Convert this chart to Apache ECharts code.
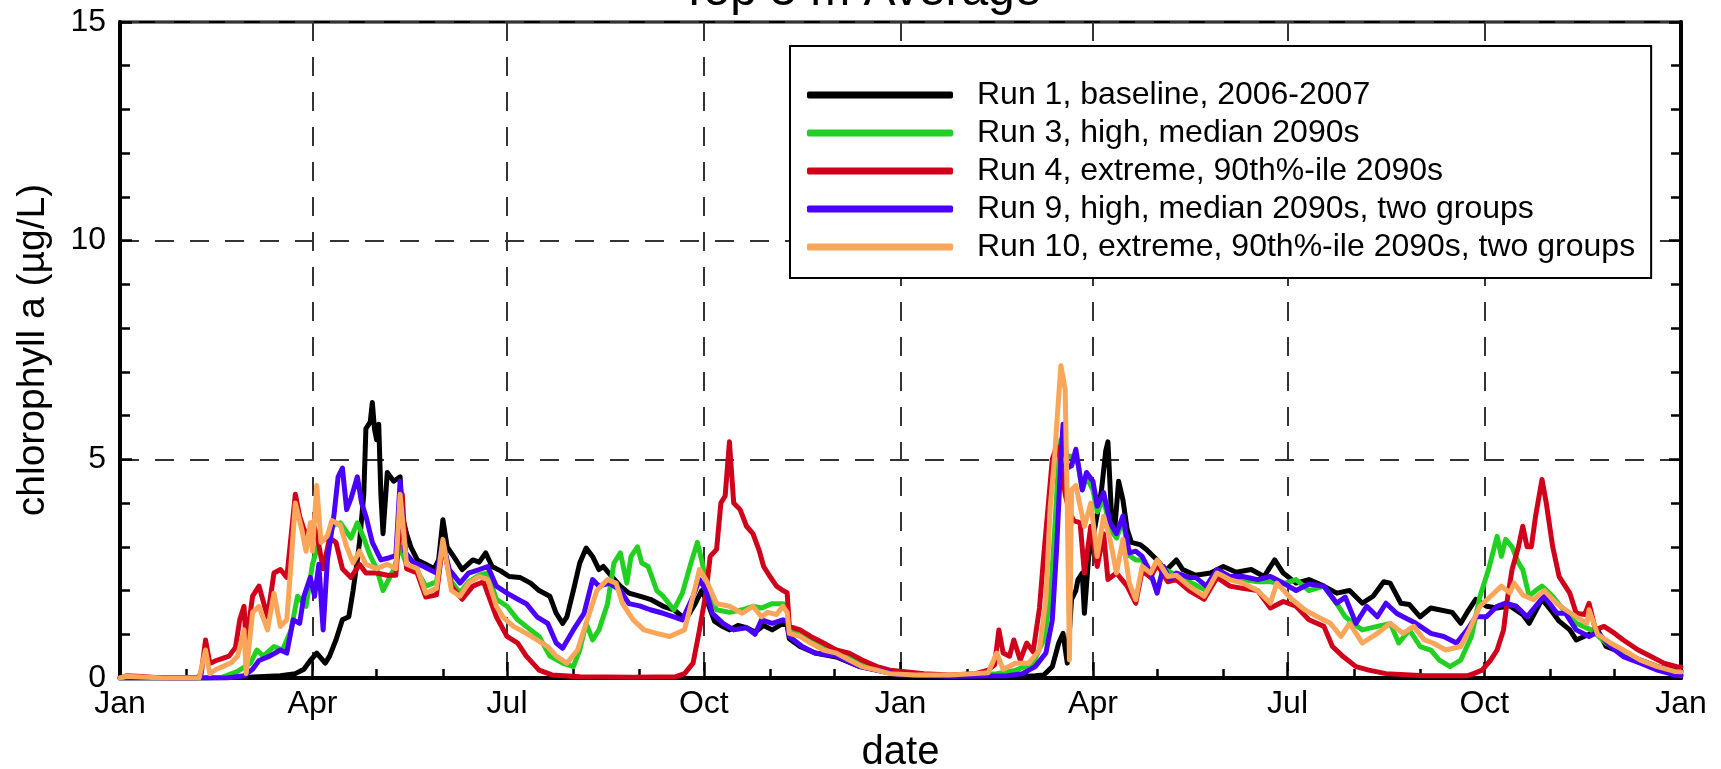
<!DOCTYPE html>
<html>
<head>
<meta charset="utf-8">
<script src="https://cdn.jsdelivr.net/npm/echarts@6/dist/echarts.min.js"></script>
<style>
html,body{margin:0;padding:0;background:#fff;}
#chart{width:1721px;height:769px;}
</style>
</head>
<body>
<div id="chart"></div>
<script>
// ---- axis definitions (day index from 1 Jan 2006, 730 = 1 Jan 2008) ----
const quarterDays = [0, 90, 181, 273, 365, 455, 546, 638, 730];
const quarterLabels = ['Jan', 'Apr', 'Jul', 'Oct', 'Jan', 'Apr', 'Jul', 'Oct', 'Jan'];
const monthDays = [0,31,59,90,120,151,181,212,243,273,304,334,365,396,424,455,485,516,546,577,608,638,669,699,730];
const yTicks = [0, 5, 10, 15];

const seriesNames = [
  'Run 1, baseline, 2006-2007',
  'Run 3, high, median 2090s',
  'Run 4, extreme, 90th%-ile 2090s',
  'Run 9, high, median 2090s, two groups',
  'Run 10, extreme, 90th%-ile 2090s, two groups'
];

// ---- series values: [day, chlorophyll a (ug/L)] ----
const run1 = [[0,0],[20,0],[40,0],[60,0.02],[75,0.05],[82,0.1],[86,0.2],[89,0.4],[92,0.57],[96,0.34],[98,0.5],[101,0.87],[104,1.33],[107,1.4],[109,2.0],[111,2.7],[112,3.1],[114,4.2],[115,5.7],[117,5.85],[118,6.3],[119,5.7],[120,5.45],[121,5.8],[122,4.2],[123,3.3],[125,4.7],[128,4.5],[131,4.6],[132,3.7],[134,3.3],[136,3.0],[139,2.7],[143,2.6],[147,2.5],[149,2.7],[151,3.62],[153,3.0],[156,2.78],[160,2.48],[165,2.7],[168,2.65],[171,2.86],[174,2.55],[178,2.45],[182,2.32],[187,2.3],[192,2.17],[196,2.0],[201,1.87],[204,1.48],[207,1.25],[209,1.4],[212,2.0],[215,2.63],[218,2.97],[221,2.78],[224,2.48],[226,2.55],[230,2.32],[234,2.1],[238,1.94],[243,1.87],[248,1.8],[254,1.64],[259,1.56],[263,1.4],[266,1.45],[269,1.7],[272,2.0],[275,1.7],[278,1.3],[281,1.2],[285,1.1],[289,1.2],[293,1.15],[297,1.05],[301,1.2],[305,1.1],[310,1.25],[312,1.2],[313,0.9],[318,0.72],[325,0.57],[335,0.48],[346,0.26],[357,0.15],[365,0.07],[380,0.04],[400,0.03],[420,0.03],[428,0.05],[432,0.07],[436,0.26],[439,0.8],[441,1.02],[443,0.34],[445,1.8],[447,2.0],[448,2.25],[450,2.4],[451,1.48],[453,2.78],[456,3.47],[459,4.3],[461,5.2],[462,5.4],[464,3.4],[465,3.3],[467,4.5],[469,4.08],[471,3.4],[473,3.1],[477,3.05],[480,2.94],[485,2.7],[489,2.45],[494,2.7],[497,2.48],[503,2.35],[510,2.4],[516,2.55],[522,2.42],[529,2.48],[535,2.32],[540,2.7],[544,2.4],[550,2.17],[556,2.25],[563,2.1],[569,1.94],[575,2.0],[581,1.71],[586,1.87],[591,2.2],[594,2.17],[599,1.71],[603,1.68],[608,1.4],[613,1.6],[617,1.56],[623,1.5],[627,1.25],[630,1.5],[634,1.8],[639,1.64],[644,1.6],[650,1.65],[656,1.45],[659,1.25],[665,1.8],[670,1.5],[673,1.3],[678,1.1],[681,0.87],[687,1.0],[691,1.1],[695,0.72],[703,0.57],[711,0.41],[719,0.26],[727,0.18],[730,0.15]];

const run3 = [[0,0],[40,0],[48,0.02],[55,0.15],[61,0.34],[64,0.64],[67,0.5],[72,0.72],[76,0.64],[80,1.1],[83,1.87],[87,1.64],[90,2.6],[93,3.1],[97,3.2],[100,3.5],[103,3.55],[108,3.2],[111,3.55],[114,3.2],[117,2.8],[120,2.5],[123,2.0],[128,2.48],[131,3.0],[134,2.6],[139,2.45],[143,2.1],[148,2.2],[151,3.1],[155,2.2],[159,1.95],[163,2.2],[168,2.35],[172,2.4],[176,1.8],[181,1.64],[186,1.33],[192,1.1],[196,0.95],[201,0.5],[207,0.34],[212,0.26],[215,0.64],[218,1.25],[221,0.87],[224,1.1],[228,1.7],[231,2.63],[234,2.86],[237,2.17],[239,2.78],[242,3.0],[244,2.63],[247,2.55],[251,2.0],[254,1.87],[259,1.56],[263,1.94],[267,2.63],[270,3.1],[272,2.7],[275,2.0],[279,1.56],[285,1.5],[291,1.56],[296,1.64],[300,1.6],[305,1.7],[310,1.7],[312,1.65],[313,1.1],[319,0.95],[325,0.8],[335,0.64],[345,0.4],[357,0.2],[365,0.1],[390,0.05],[410,0.1],[419,0.18],[427,0.34],[432,0.87],[435,1.79],[437,3.3],[439,5.0],[440,5.45],[443,5.07],[445,5.07],[448,4.9],[450,4.3],[452,4.6],[455,4.3],[457,3.8],[460,4.1],[463,3.4],[466,3.2],[469,3.6],[472,2.8],[475,2.7],[478,2.7],[482,2.35],[485,2.0],[488,2.5],[494,2.35],[500,2.2],[508,2.0],[513,2.4],[519,2.3],[525,2.25],[532,2.2],[538,2.2],[544,2.15],[550,2.25],[556,2.0],[563,2.1],[569,1.7],[573,1.4],[578,1.2],[581,1.1],[588,1.18],[594,1.25],[598,0.8],[603,1.1],[608,0.72],[613,0.64],[617,0.41],[622,0.26],[627,0.41],[632,0.95],[636,1.87],[640,2.48],[644,3.24],[646,2.78],[648,3.17],[651,3.0],[654,2.63],[656,2.48],[659,1.87],[662,2.0],[665,2.1],[670,1.87],[675,1.56],[681,1.25],[688,1.1],[695,0.8],[703,0.57],[713,0.34],[722,0.18],[728,0.1],[730,0.1]];

const run4 = [[0,0],[3,0.05],[8,0.04],[20,0],[36,0],[38,0.1],[40,0.87],[42,0.33],[45,0.4],[48,0.45],[51,0.5],[54,0.7],[56,1.33],[58,1.64],[59,0.8],[62,1.87],[65,2.1],[69,1.4],[72,2.4],[75,2.48],[78,2.3],[80,3.24],[82,4.2],[84,3.7],[87,3.25],[90,3.55],[92,3.3],[95,2.5],[98,3.2],[101,3.1],[104,2.5],[108,2.3],[112,2.6],[115,2.4],[120,2.4],[125,2.35],[129,2.35],[132,4.2],[134,2.5],[139,2.4],[143,1.85],[148,1.9],[151,3.1],[155,2.1],[160,1.8],[165,2.1],[170,2.2],[176,1.4],[181,0.95],[186,0.8],[190,0.5],[196,0.18],[202,0.07],[215,0.03],[240,0.02],[260,0.03],[264,0.1],[268,0.34],[271,1.1],[274,1.94],[276,2.78],[279,2.94],[281,4.0],[283,4.16],[285,5.4],[287,4.0],[290,3.85],[293,3.47],[296,3.3],[299,2.9],[301,2.55],[304,2.32],[307,2.1],[310,2.0],[312,1.95],[313,1.18],[318,1.1],[323,0.95],[329,0.8],[335,0.64],[341,0.57],[347,0.41],[354,0.26],[360,0.18],[366,0.15],[376,0.1],[388,0.07],[400,0.1],[406,0.18],[409,0.3],[411,1.1],[413,0.57],[416,0.5],[418,0.87],[421,0.41],[424,0.8],[427,0.6],[430,1.6],[432,2.8],[434,3.9],[436,5.0],[438,5.3],[440,5.0],[442,4.2],[444,3.8],[446,3.6],[449,3.55],[451,2.4],[454,3.47],[457,2.55],[460,3.3],[462,2.25],[466,2.4],[471,2.1],[475,1.71],[478,2.45],[482,2.3],[485,2.6],[490,2.2],[494,2.25],[500,2.0],[507,1.8],[513,2.3],[519,2.1],[525,2.05],[532,2.0],[538,1.6],[544,1.75],[550,1.64],[556,1.33],[563,1.18],[567,0.72],[572,0.49],[578,0.26],[584,0.18],[592,0.1],[610,0.05],[630,0.05],[633,0.1],[637,0.18],[641,0.41],[644,0.64],[647,1.1],[649,1.87],[651,2.48],[654,3.0],[656,3.47],[658,3.0],[660,3.0],[662,3.7],[665,4.54],[667,4.0],[670,3.0],[673,2.32],[678,1.94],[681,1.48],[685,1.45],[687,1.71],[690,1.1],[694,1.18],[699,1.02],[703,0.87],[710,0.64],[716,0.49],[722,0.34],[728,0.26],[730,0.25]];

const run9 = [[0,0],[50,0],[58,0.05],[62,0.2],[65,0.4],[70,0.5],[75,0.64],[78,0.57],[81,1.33],[84,1.25],[86,1.87],[89,2.3],[91,1.87],[93,2.6],[95,1.1],[97,2.7],[100,3.7],[102,4.6],[104,4.8],[106,3.85],[108,4.1],[111,4.6],[113,4.0],[115,3.7],[118,3.1],[122,2.7],[126,2.75],[129,2.8],[131,4.5],[133,2.9],[137,2.65],[142,2.55],[148,2.4],[151,3.1],[154,2.48],[159,2.17],[163,2.4],[168,2.48],[172,2.55],[176,2.1],[181,1.94],[186,1.8],[190,1.7],[195,1.4],[200,1.25],[204,0.8],[207,0.68],[212,1.1],[217,1.48],[221,2.25],[224,2.1],[229,2.17],[234,2.0],[238,1.7],[243,1.65],[248,1.56],[254,1.48],[259,1.4],[263,1.33],[268,1.87],[271,2.25],[274,2.0],[277,1.48],[282,1.25],[287,1.1],[293,1.15],[297,1.0],[300,1.33],[305,1.25],[310,1.33],[312,1.3],[313,0.95],[319,0.72],[325,0.57],[335,0.5],[346,0.26],[357,0.15],[365,0.07],[390,0.04],[415,0.05],[422,0.1],[428,0.26],[433,0.57],[436,1.33],[438,2.94],[440,5.0],[441,5.8],[443,4.8],[445,4.85],[447,5.23],[450,4.3],[452,4.7],[455,4.5],[457,3.93],[460,4.24],[463,3.55],[466,3.3],[469,3.7],[472,2.86],[475,2.9],[478,2.78],[482,2.4],[485,1.94],[488,2.55],[491,2.25],[494,2.4],[500,2.3],[503,2.3],[508,2.1],[513,2.48],[519,2.32],[525,2.32],[532,2.25],[538,2.32],[544,2.17],[550,2.0],[556,2.15],[563,2.1],[569,1.71],[573,1.85],[578,1.25],[583,1.64],[588,1.4],[592,1.71],[597,1.48],[600,1.4],[606,1.25],[613,1.02],[619,0.95],[625,0.8],[630,1.1],[634,1.4],[639,1.4],[644,1.64],[648,1.71],[653,1.64],[658,1.4],[662,1.64],[666,1.87],[672,1.48],[676,1.48],[681,1.1],[687,0.95],[691,1.05],[697,0.72],[703,0.49],[711,0.34],[719,0.18],[727,0.07],[730,0.05]];

const run10 = [[0,0],[3,0.04],[8,0.03],[20,0],[37,0],[40,0.64],[42,0.1],[45,0.2],[48,0.26],[52,0.35],[55,0.5],[58,1.1],[59,0.1],[62,1.5],[65,1.64],[69,1.1],[72,1.94],[75,1.18],[78,1.33],[80,2.63],[82,4.0],[85,3.4],[87,2.9],[89,3.55],[90,2.9],[92,4.4],[94,3.1],[97,3.25],[99,3.6],[103,3.5],[106,3.0],[109,2.63],[112,2.9],[115,2.6],[120,2.5],[125,2.6],[129,2.5],[131,4.2],[134,2.6],[139,2.5],[143,1.94],[148,2.05],[151,3.17],[155,2.0],[159,1.87],[163,2.17],[168,2.32],[172,2.25],[176,1.64],[179,1.4],[184,1.18],[190,1.02],[195,0.87],[200,0.72],[204,0.5],[209,0.34],[214,0.64],[218,1.25],[223,2.0],[228,2.25],[232,2.17],[235,1.7],[240,1.33],[245,1.1],[251,1.02],[257,0.95],[264,1.1],[268,1.87],[271,2.48],[274,2.25],[279,1.7],[285,1.64],[291,1.48],[296,1.64],[300,1.4],[303,1.5],[307,1.45],[310,1.64],[312,1.5],[313,1.02],[318,0.95],[323,0.8],[329,0.64],[335,0.57],[341,0.41],[347,0.26],[354,0.18],[360,0.1],[372,0.07],[388,0.07],[400,0.1],[406,0.12],[410,0.57],[413,0.2],[419,0.34],[425,0.34],[430,0.64],[433,1.79],[435,3.9],[437,5.0],[438,5.76],[440,7.14],[442,6.6],[443,3.9],[444,0.41],[445,4.3],[447,4.4],[451,3.47],[454,4.0],[457,2.78],[460,3.7],[463,3.17],[466,2.4],[469,3.17],[472,2.17],[475,1.79],[478,2.55],[482,2.4],[485,2.7],[490,2.32],[494,2.35],[500,2.1],[507,1.87],[513,2.4],[519,2.25],[525,2.17],[532,2.0],[538,1.71],[541,2.17],[548,1.8],[554,1.56],[560,1.4],[566,1.25],[571,0.95],[575,1.25],[581,0.8],[588,1.02],[594,1.25],[600,1.02],[605,1.18],[610,0.87],[614,0.8],[620,0.64],[627,0.72],[631,1.1],[636,1.64],[641,1.87],[646,2.1],[650,1.95],[652,2.17],[656,1.9],[661,1.79],[666,2.0],[672,1.7],[676,1.56],[681,1.4],[686,1.25],[687,1.56],[691,1.0],[697,0.8],[703,0.64],[711,0.41],[719,0.26],[727,0.15],[730,0.14]];

const seriesColors = ['#000000', '#22d022', '#d0021b', '#4b00ff', '#f9a55a'];
const seriesData = [run1, run3, run4, run9, run10];

// ---- build chart ----
const FONT = '"Liberation Sans", Arial, Helvetica, sans-serif';
const days = Array.from({length: 731}, (_, i) => i);
const isQuarter = (i) => quarterDays.indexOf(i) >= 0;
const isMonth = (i) => monthDays.indexOf(i) >= 0;

const chart = echarts.init(document.getElementById('chart'), null, {renderer: 'canvas'});

const option = {
  backgroundColor: '#ffffff',
  animation: false,
  title: {
    text: 'Top 5 m Average',
    left: 'center',
    top: -37,
    textStyle: {fontFamily: FONT, fontSize: 48, fontWeight: 'normal', color: '#000'}
  },
  grid: {left: 120, right: 40, top: 22, bottom: 91, containLabel: false, outerBoundsMode: 'none', show: true, borderColor: '#000', borderWidth: 3, backgroundColor: 'transparent'},
  legend: {
    orient: 'vertical',
    left: 790,
    top: 46,
    padding: [33, 16, 15, 17],
    itemGap: 6,
    itemWidth: 146,
    itemHeight: 7,
    icon: 'roundRect',
    backgroundColor: '#ffffff',
    borderColor: '#000',
    borderWidth: 2,
    borderRadius: 0,
    textStyle: {fontFamily: FONT, fontSize: 32, color: '#000', lineHeight: 28, padding: [0, 0, 0, 19]},
    data: seriesNames
  },
  xAxis: [
    {
      type: 'category',
      data: days,
      boundaryGap: false,
      name: 'date',
      nameLocation: 'middle',
      nameGap: 55,
      nameTextStyle: {fontFamily: FONT, fontSize: 40, color: '#000'},
      axisLine: {show: true, onZero: false, lineStyle: {color: '#000', width: 4}},
      axisTick: {show: true, inside: true, length: 16, interval: (i) => isQuarter(i), lineStyle: {color: '#000', width: 2.5}},
      axisLabel: {
        show: true,
        interval: (i) => isQuarter(i),
        formatter: (v, i) => quarterLabels[quarterDays.indexOf(Number(v))] || '',
        fontFamily: FONT, fontSize: 32, color: '#000', margin: 10
      },
      splitLine: {show: true, interval: (i) => isQuarter(i) && i !== 0 && i !== 730, lineStyle: {color: '#333', width: 2, type: [19, 16]}}
    },
    {
      type: 'category',
      data: days,
      boundaryGap: false,
      position: 'bottom',
      axisLine: {show: false},
      axisTick: {show: true, inside: true, length: 9, interval: (i) => isMonth(i), lineStyle: {color: '#000', width: 2.5}},
      axisLabel: {show: false},
      splitLine: {show: false}
    }
  ],
  yAxis: [
    {
      type: 'value',
      min: 0, max: 15, interval: 5,
      name: 'chlorophyll a (µg/L)',
      nameLocation: 'middle',
      nameGap: 67,
      nameTextStyle: {fontFamily: FONT, fontSize: 39, color: '#000'},
      axisLine: {show: true, lineStyle: {color: '#000', width: 4}},
      axisTick: {show: true, inside: true, length: 12, lineStyle: {color: '#000', width: 2.5}},
      minorTick: {show: true, splitNumber: 5, length: 10, lineStyle: {color: '#000', width: 2.5}},
      axisLabel: {fontFamily: FONT, fontSize: 32, color: '#000', margin: 14, formatter: (v) => yTicks.indexOf(v) >= 0 ? String(v) : ''},
      splitLine: {show: true, lineStyle: {color: '#333', width: 2, type: [19, 16]}}
    },
    {
      type: 'value',
      min: 0, max: 15, interval: 5,
      position: 'right',
      axisLine: {show: true, lineStyle: {color: '#000', width: 4}},
      axisTick: {show: true, inside: true, length: 12, lineStyle: {color: '#000', width: 2.5}},
      minorTick: {show: true, splitNumber: 5, length: 10, lineStyle: {color: '#000', width: 2.5}},
      axisLabel: {show: false},
      splitLine: {show: false}
    }
  ],
  series: seriesNames.map((name, k) => ({
    name: name,
    type: 'line',
    xAxisIndex: 0,
    yAxisIndex: 0,
    data: seriesData[k],
    showSymbol: false,
    symbol: 'none',
    smooth: false,
    color: seriesColors[k],
    itemStyle: {color: seriesColors[k]},
    lineStyle: {color: seriesColors[k], width: 5, join: 'round', cap: 'round'},
    z: 3 + k
  }))
};

chart.setOption(option);
</script>
</body>
</html>
